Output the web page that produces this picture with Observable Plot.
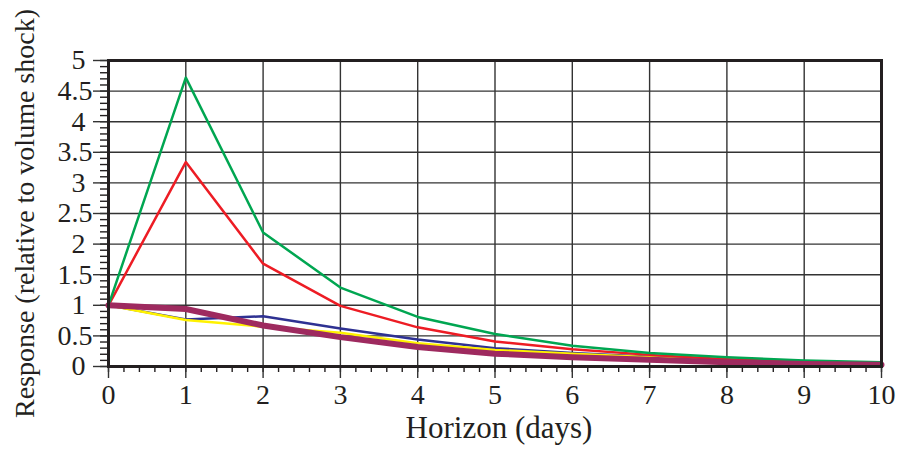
<!DOCTYPE html>
<html>
<head>
<meta charset="utf-8">
<script src="https://cdn.jsdelivr.net/npm/d3@7"></script>
<script src="https://cdn.jsdelivr.net/npm/@observablehq/plot@0.6"></script>
<style>
  html, body { margin: 0; padding: 0; background: #fff; }
</style>
</head>
<body>
<script>
// Impulse responses over an 11-day horizon, relative to a unit volume shock
const horizon = [0, 1, 2, 3, 4, 5, 6, 7, 8, 9, 10];
const seriesGreen  = [1, 4.72, 2.19, 1.29, 0.81, 0.53, 0.34, 0.22, 0.15, 0.10, 0.07];
const seriesRed    = [1, 3.34, 1.68, 0.99, 0.64, 0.41, 0.28, 0.19, 0.12, 0.07, 0.04];
const seriesBlue   = [1, 0.77, 0.82, 0.62, 0.44, 0.30, 0.22, 0.16, 0.10, 0.06, 0.04];
const seriesYellow = [1, 0.76, 0.65, 0.55, 0.38, 0.27, 0.21, 0.15, 0.09, 0.05, 0.03];
const seriesPurple = [1, 0.94, 0.67, 0.48, 0.32, 0.21, 0.15, 0.11, 0.07, 0.04, 0.03];

const yMajor = [0, 0.5, 1, 1.5, 2, 2.5, 3, 3.5, 4, 4.5, 5];
const yMinor = d3.range(0, 51).map(i => i / 10);
const xMajor = horizon;
const xMinor = d3.range(0, 51).map(i => i / 5);

const xLabel = "Horizon (days)";
const yLabel = "Response (relative to volume shock)";

const ink = "#231f20";
const gridColor = "#333";

const pairs = ys => horizon.map((h, i) => [h, ys[i]]);

const chart = Plot.plot({
  width: 904,
  height: 449,
  marginLeft: 108,
  marginRight: 23,
  marginTop: 60,
  marginBottom: 83,
  style: {fontFamily: "'Liberation Serif', 'Times New Roman', serif", fontSize: "28px", color: ink, background: "#fff"},
  x: {domain: [0, 10]},
  y: {domain: [0, 5]},
  marks: [
    Plot.gridY(yMajor, {stroke: gridColor, strokeOpacity: 1, strokeWidth: 1.4}),
    Plot.gridX(xMajor, {stroke: gridColor, strokeOpacity: 1, strokeWidth: 1.4}),
    // minor ticks
    Plot.axisY(yMinor, {tickSize: 8, tickFormat: () => "", label: null, stroke: ink, strokeWidth: 1.4}),
    Plot.axisX(xMinor, {tickSize: 6, tickFormat: () => "", label: null, stroke: ink, strokeWidth: 1.4}),
    // major ticks, labels for halves
    Plot.axisY(yMajor, {tickSize: 15, tickPadding: 1, label: null, stroke: gridColor, strokeWidth: 1.4,
      tickFormat: d => Number.isInteger(d) ? "" : String(d), fill: ink}),
    // labels for whole numbers
    Plot.axisY(yMajor.filter(Number.isInteger), {tickSize: 0, tickPadding: 23, label: null,
      tickFormat: d => String(d), fill: ink}),
    Plot.axisX(xMajor, {tickSize: 12, tickPadding: 6, label: null, stroke: gridColor, strokeWidth: 1.4,
      tickFormat: d => String(d), fill: ink}),
    // series
    Plot.line(pairs(seriesBlue),   {stroke: "#2e3192", strokeWidth: 2.5}),
    Plot.line(pairs(seriesYellow), {stroke: "#fff200", strokeWidth: 2.5}),
    Plot.line(pairs(seriesRed),    {stroke: "#ed1c24", strokeWidth: 2.5}),
    Plot.line(pairs(seriesGreen),  {stroke: "#00a651", strokeWidth: 2.5}),
    Plot.line(pairs(seriesPurple), {stroke: "#9e2a5f", strokeWidth: 6}),
    Plot.frame({stroke: ink, strokeWidth: 3}),
    // axis titles
    Plot.text([xLabel], {frameAnchor: "bottom", textAnchor: "middle", dy: 71, dx: 4, lineAnchor: "bottom",
      text: d => d, fill: ink, fontSize: 31}),
    Plot.text([yLabel], {frameAnchor: "left", textAnchor: "middle", dx: -75, dy: 0, rotate: -90, lineAnchor: "bottom",
      text: d => d, fill: ink, fontSize: 28})
  ]
});

document.body.append(chart);
</script>
</body>
</html>
